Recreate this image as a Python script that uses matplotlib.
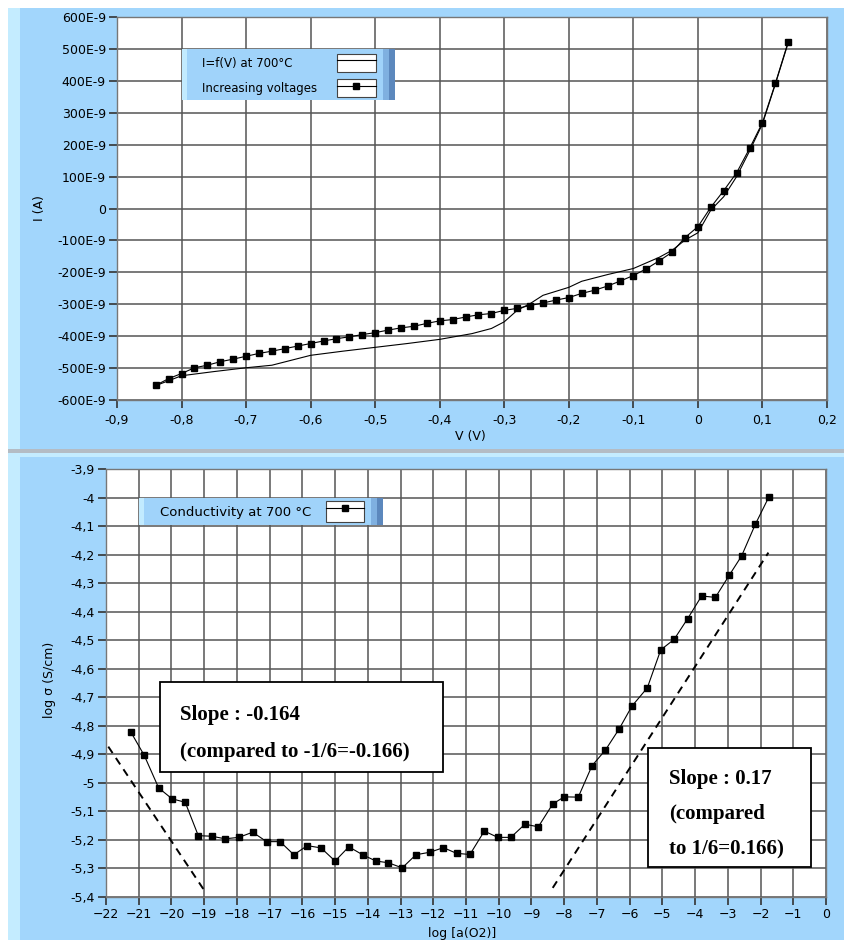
import numpy as np
import matplotlib.pyplot as plt
from matplotlib.patches import Rectangle
from matplotlib.lines import Line2D
from matplotlib.legend_handler import HandlerTuple
from matplotlib.ticker import FixedLocator, FixedFormatter

# ─── Data ─────────────────────────────────────────────────────────────────────

# top panel: I = f(V) at 700 °C, current in nA (labelled as E-9 A)
V_sweep = [-0.84, -0.80, -0.75, -0.70, -0.66, -0.60, -0.55, -0.50, -0.45, -0.40,
           -0.35, -0.32, -0.30, -0.28, -0.26, -0.24, -0.20, -0.18, -0.14, -0.10,
           -0.06, -0.04, -0.02, 0.00, 0.02, 0.04, 0.06, 0.08, 0.10, 0.12, 0.14]
I_sweep = [-555, -524, -511, -499, -491, -460, -447, -435, -423, -410,
           -392, -376, -355, -319, -298, -272, -247, -228, -207, -188,
           -153, -131, -99, -76, -5, 37, 100, 180, 265, 390, 520]

V_inc = [-0.84, -0.82, -0.80, -0.78, -0.76, -0.74, -0.72, -0.70, -0.68, -0.66,
         -0.64, -0.62, -0.60, -0.58, -0.56, -0.54, -0.52, -0.50, -0.48, -0.46,
         -0.44, -0.42, -0.40, -0.38, -0.36, -0.34, -0.32, -0.30, -0.28, -0.26,
         -0.24, -0.22, -0.20, -0.18, -0.16, -0.14, -0.12, -0.10, -0.08, -0.06,
         -0.04, -0.02, 0.00, 0.02, 0.04, 0.06, 0.08, 0.10, 0.12, 0.14]
I_inc = [-554, -533, -517, -499, -491, -480, -472, -463, -454, -447,
         -439, -431, -423, -415, -408, -402, -395, -389, -381, -374,
         -369, -360, -352, -348, -340, -333, -329, -319, -313, -304,
         -296, -287, -279, -266, -256, -243, -227, -210, -189, -164,
         -137, -91, -57, 4, 56, 112, 188, 269, 392, 523]

V_ticks = [-0.9, -0.8, -0.7, -0.6, -0.5, -0.4, -0.3, -0.2, -0.1, 0.0, 0.1, 0.2]
V_labels = ['-0,9', '-0,8', '-0,7', '-0,6', '-0,5', '-0,4', '-0,3', '-0,2',
            '-0,1', '0', '0,1', '0,2']
I_ticks = [600, 500, 400, 300, 200, 100, 0, -100, -200, -300, -400, -500, -600]
I_labels = ['600E-9', '500E-9', '400E-9', '300E-9', '200E-9', '100E-9', '0',
            '-100E-9', '-200E-9', '-300E-9', '-400E-9', '-500E-9', '-600E-9']

# bottom panel: log sigma vs log a(O2)
log_aO2 = [-21.24, -20.83, -20.39, -19.98, -19.58, -19.18, -18.77, -18.36, -17.94, -17.52,
           -17.09, -16.68, -16.26, -15.85, -15.43, -15.00, -14.58, -14.16, -13.75, -13.37,
           -12.95, -12.53, -12.10, -11.69, -11.29, -10.88, -10.44, -10.03, -9.63, -9.20,
           -8.79, -8.35, -8.00, -7.57, -7.15, -6.74, -6.32, -5.93, -5.46, -5.05,
           -4.64, -4.23, -3.80, -3.38, -2.96, -2.58, -2.16, -1.75]
log_sigma = [-4.822, -4.904, -5.018, -5.056, -5.068, -5.185, -5.187, -5.196, -5.191, -5.173,
             -5.206, -5.206, -5.252, -5.220, -5.228, -5.274, -5.224, -5.252, -5.274, -5.280,
             -5.298, -5.252, -5.243, -5.227, -5.247, -5.251, -5.169, -5.191, -5.191, -5.145,
             -5.154, -5.074, -5.049, -5.050, -4.940, -4.885, -4.811, -4.731, -4.667, -4.534,
             -4.497, -4.425, -4.345, -4.350, -4.273, -4.205, -4.094, -3.999]

# dashed guide lines (end points)
slope_neg_x = [-21.93, -18.95]
slope_neg_y = [-4.873, -5.385]
slope_pos_x = [-8.35, -1.76]
slope_pos_y = [-5.368, -4.193]

a_ticks = list(range(-22, 1))
s_ticks = [-3.9, -4.0, -4.1, -4.2, -4.3, -4.4, -4.5, -4.6, -4.7, -4.8,
           -4.9, -5.0, -5.1, -5.2, -5.3, -5.4]
s_labels = ['-3,9', '-4', '-4,1', '-4,2', '-4,3', '-4,4', '-4,5', '-4,6', '-4,7',
            '-4,8', '-4,9', '-5', '-5,1', '-5,2', '-5,3', '-5,4']

# ─── Figure / background ──────────────────────────────────────────────────────

W, H = 845, 940
fig = plt.figure(figsize=(W / 100, H / 100), dpi=100)

BLUE = '#a2d6fc'
LIGHT = '#c4ecff'
GRID = '#555555'


def fig_rect(x0, y0, x1, y1):
    # pixel box (top-left origin) -> figure fraction rectangle args
    return (x0 / W, 1 - y1 / H), (x1 - x0) / W, (y1 - y0) / H


def px_rect(x0, y0, x1, y1, color):
    xy, w, h = fig_rect(x0, y0, x1, y1)
    fig.patches.append(Rectangle(xy, w, h, transform=fig.transFigure,
                                 facecolor=color, edgecolor='none', zorder=-5))


px_rect(8, 8, W, 449, BLUE)
px_rect(8, 8, 20, 449, LIGHT)
px_rect(8, 449, W, 453, '#b4bcc4')
px_rect(8, 453, W, 457, LIGHT)
px_rect(8, 457, W, H, BLUE)
px_rect(8, 457, 20, H, LIGHT)


def px_axes(x0, y0, x1, y1):
    return fig.add_axes([x0 / W, 1 - y1 / H, (x1 - x0) / W, (y1 - y0) / H])


def style(ax):
    ax.set_facecolor('white')
    ax.grid(True, color=GRID, linewidth=1.1)
    ax.set_axisbelow(True)
    for s in ax.spines.values():
        s.set_color('#777777')
        s.set_linewidth(1.0)
    ax.tick_params(direction='out', length=6, width=1.2, color='#333333',
                   labelsize=9, pad=2)


def legend_box(ax, x0, y0, x1, y1):
    # LabVIEW-like plot legend panel: light left edge, dark shaded right edge
    for (xa, xb), fc in [((x0, x1), '#a0d3fa'),
                         ((x0, x0 + 5), '#c2ebff'),
                         ((x1 - 12, x1 - 6), '#7fb0e0'),
                         ((x1 - 6, x1), '#5c88bd')]:
        xy, w, h = fig_rect(xa, y0, xb, y1)
        ax.add_patch(Rectangle(xy, w, h, transform=fig.transFigure,
                               facecolor=fc, edgecolor='none', zorder=8,
                               clip_on=False))


def icon():
    return Rectangle((0, 0), 1, 1, facecolor='white', edgecolor='#444444',
                     linewidth=0.8)


def blank():
    return Line2D([], [], linestyle='none')


TUPLE = {tuple: HandlerTuple(ndivide=1, pad=0)}

# ─── Top panel ────────────────────────────────────────────────────────────────

ax1 = px_axes(117, 17, 827, 400)
style(ax1)
ax1.set_xlim(-0.9, 0.2)
ax1.set_ylim(-600, 600)
ax1.xaxis.set_major_locator(FixedLocator(V_ticks))
ax1.xaxis.set_major_formatter(FixedFormatter(V_labels))
ax1.yaxis.set_major_locator(FixedLocator(I_ticks))
ax1.yaxis.set_major_formatter(FixedFormatter(I_labels))
ax1.tick_params(axis='x', pad=4)

l1, = ax1.plot(V_sweep, I_sweep, color='black', linewidth=0.8)
l2, = ax1.plot(V_inc, I_inc, color='black', linewidth=0.8, marker='s',
               markersize=5)

legend_box(ax1, 182, 49, 395, 100)
leg_kw = dict(loc='upper left', bbox_transform=fig.transFigure, frameon=False,
              fontsize=8.5, borderpad=0, borderaxespad=0, handleheight=2.0,
              labelspacing=0.58)
leg_txt = ax1.legend([blank(), blank()],
                     ['I=f(V) at 700°C', 'Increasing voltages'],
                     bbox_to_anchor=(202 / W, 1 - 54 / H),
                     handlelength=0, handletextpad=0, **leg_kw)
leg_txt.set_zorder(10)
ax1.add_artist(leg_txt)
leg_ico = ax1.legend([(icon(), l1), (icon(), l2)], ['', ''],
                     handler_map=TUPLE, bbox_to_anchor=(337 / W, 1 - 54 / H),
                     handlelength=3.3, handletextpad=0, **leg_kw)
leg_ico.set_zorder(10)

fig.text(470 / W, 1 - 437 / H, 'V (V)', ha='center', va='center', fontsize=9)
fig.text(40 / W, 1 - 208 / H, 'I (A)', ha='center', va='center', fontsize=9,
         rotation=90)

# ─── Bottom panel ─────────────────────────────────────────────────────────────

ax2 = px_axes(106, 469, 826, 897)
style(ax2)
ax2.set_xlim(-22, 0)
ax2.set_ylim(-5.4, -3.9)
ax2.xaxis.set_major_locator(FixedLocator(a_ticks))
ax2.yaxis.set_major_locator(FixedLocator(s_ticks))
ax2.yaxis.set_major_formatter(FixedFormatter(s_labels))

l3, = ax2.plot(log_aO2, log_sigma, color='black', linewidth=0.8, marker='s',
               markersize=5)
ax2.plot(slope_neg_x, slope_neg_y, color='black', linestyle='--',
         linewidth=1.4, dashes=(4, 3))
ax2.plot(slope_pos_x, slope_pos_y, color='black', linestyle='--',
         linewidth=1.4, dashes=(4, 3))

legend_box(ax2, 139, 498, 383, 525)
leg2 = ax2.legend([(icon(), l3)], ['Conductivity at 700 °C'],
                  handler_map=TUPLE,
                  loc='upper left', bbox_to_anchor=(160 / W, 1 - 501 / H),
                  bbox_transform=fig.transFigure, markerfirst=False,
                  frameon=False, fontsize=9.5, borderpad=0, borderaxespad=0,
                  handlelength=2.9, handleheight=2.05, handletextpad=1.1)
leg2.set_zorder(10)

# slope annotation boxes
ax2.add_patch(Rectangle((-20.35, -4.962), 8.65, 0.315, facecolor='white',
                        edgecolor='black', linewidth=1.3, zorder=5))
ax2.add_patch(Rectangle((-5.43, -5.294), 4.97, 0.417, facecolor='white',
                        edgecolor='black', linewidth=1.3, zorder=5))
box_font = dict(family='Liberation Serif', fontweight='bold', fontsize=15,
                va='center', ha='left', zorder=6)
ax2.text(-19.74, -4.762, 'Slope : -0.164', **box_font)
ax2.text(-19.74, -4.892, '(compared to -1/6=-0.166)', **box_font)
ax2.text(-4.79, -4.988, 'Slope : 0.17', **box_font)
ax2.text(-4.79, -5.110, '(compared', **box_font)
ax2.text(-4.79, -5.233, 'to 1/6=0.166)', **box_font)

fig.text(462 / W, 1 - 933 / H, 'log [a(O2)]', ha='center', va='center',
         fontsize=9)
fig.text(50 / W, 1 - 680 / H, 'log σ (S/cm)', ha='center', va='center',
         fontsize=9, rotation=90)

fig.savefig('out.png', dpi=100)
